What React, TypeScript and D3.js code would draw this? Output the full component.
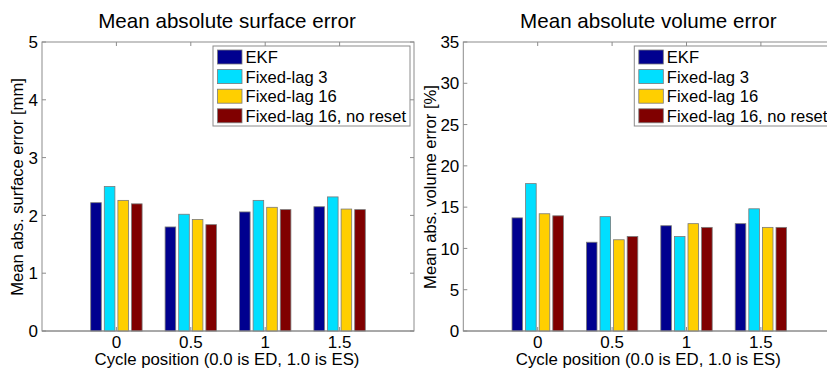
import { scaleLinear } from "d3";

const categories = [0, 0.5, 1, 1.5];
const categoryLabels = ["0", "0.5", "1", "1.5"];
const seriesNames = ["EKF", "Fixed-lag 3", "Fixed-lag 16", "Fixed-lag 16, no reset"];
const seriesColors = ["#00008f", "#00dfff", "#ffcf00", "#800000"];

// rows = series, columns = categories
const surfaceError = [
    [2.22, 1.8, 2.06, 2.15],
    [2.5, 2.02, 2.26, 2.32],
    [2.26, 1.93, 2.14, 2.11],
    [2.2, 1.84, 2.1, 2.1],
];
const volumeError = [
    [13.7, 10.75, 12.75, 13.0],
    [17.85, 13.85, 11.45, 14.8],
    [14.2, 11.05, 13.0, 12.55],
    [13.95, 11.45, 12.55, 12.55],
];
const surfaceTicks = [0, 1, 2, 3, 4, 5];
const volumeTicks = [0, 5, 10, 15, 20, 25, 30, 35];

const FONT = "'Liberation Sans', Arial, sans-serif";
const AXIS = "#8c8c8c";

interface PanelProps {
    x0: number;
    title: string;
    yLabel: string;
    yLabelOffset: number;
    values: number[][];
    yTicks: number[];
}

function Panel({ x0, title, yLabel, yLabelOffset, values, yTicks }: PanelProps) {
    const left = x0;
    const right = x0 + 372;
    const top = 42;
    const bottom = 331;
    const x = scaleLinear().domain([-0.5, 2]).range([left, right]);
    const y = scaleLinear().domain([0, yTicks[yTicks.length - 1]]).range([bottom, top]);
    const step = 13.6;
    const barW = 10.6;
    const tick = 4;

    return (
        <g fontFamily={FONT}>
            <text x={(left + right) / 2 - 1} y={28} textAnchor="middle" fontSize={20.6}>
                {title}
            </text>
            <rect x={left} y={top} width={right - left} height={bottom - top} fill="white" stroke={AXIS} />
            {yTicks.map((t) => (
                <g key={t}>
                    <line x1={left} x2={left + tick} y1={y(t)} y2={y(t)} stroke={AXIS} />
                    <line x1={right} x2={right - tick} y1={y(t)} y2={y(t)} stroke={AXIS} />
                    <text x={left - 4} y={y(t)} dy="0.36em" textAnchor="end" fontSize={17}>
                        {t}
                    </text>
                </g>
            ))}
            {categories.map((c, i) => (
                <g key={c}>
                    <line x1={x(c)} x2={x(c)} y1={bottom} y2={bottom - tick} stroke={AXIS} />
                    <line x1={x(c)} x2={x(c)} y1={top} y2={top + tick} stroke={AXIS} />
                    <text x={x(c)} y={348} textAnchor="middle" fontSize={17}>
                        {categoryLabels[i]}
                    </text>
                </g>
            ))}
            {values.map((row, s) =>
                row.map((v, i) => {
                    const cx = x(categories[i]) + (s - 1.5) * step;
                    return (
                        <rect
                            key={`${s}-${i}`}
                            x={cx - barW / 2}
                            y={y(v)}
                            width={barW}
                            height={bottom - y(v)}
                            fill={seriesColors[s]}
                            stroke="#7a7a7a"
                            strokeWidth={0.8}
                        />
                    );
                })
            )}
            <line x1={left} x2={right} y1={bottom} y2={bottom} stroke={AXIS} />
            <text x={(left + right) / 2 - 1} y={365} textAnchor="middle" fontSize={16.8}>
                Cycle position (0.0 is ED, 1.0 is ES)
            </text>
            <text
                transform={`translate(${left - yLabelOffset},${(top + bottom) / 2 + 0.5}) rotate(-90)`}
                textAnchor="middle"
                fontSize={16.6}
            >
                {yLabel}
            </text>
            <g transform={`translate(${right - 201},46)`}>
                <rect x={0} y={0} width={197} height={80} fill="white" stroke={AXIS} />
                {seriesNames.map((name, s) => (
                    <g key={name} transform={`translate(0,${11 + s * 19.6})`}>
                        <rect x={4.5} y={-7} width={24.5} height={14} fill={seriesColors[s]} stroke="#7a7a7a" strokeWidth={0.8} />
                        <text x={32.5} y={0} dy="0.36em" fontSize={16.6}>
                            {name}
                        </text>
                    </g>
                ))}
            </g>
        </g>
    );
}

export default function App() {
    return (
        <svg width={827} height={368} style={{ position: "absolute", left: 0, top: 0, background: "white" }}>
            <Panel
                x0={42}
                title="Mean absolute surface error"
                yLabel="Mean abs. surface error [mm]"
                yLabelOffset={19}
                values={surfaceError}
                yTicks={surfaceTicks}
            />
            <Panel
                x0={463.3}
                title="Mean absolute volume error"
                yLabel="Mean abs. volume error [%]"
                yLabelOffset={27}
                values={volumeError}
                yTicks={volumeTicks}
            />
        </svg>
    );
}
